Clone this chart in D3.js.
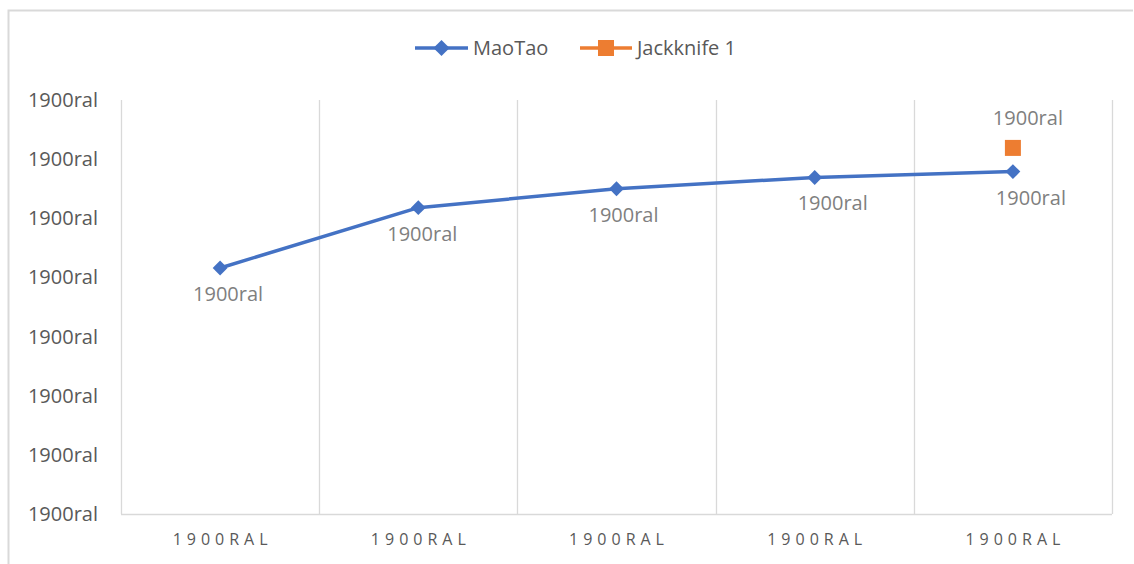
<!DOCTYPE html>
<html>
<head>
<meta charset="utf-8">
<script src="https://cdn.jsdelivr.net/npm/d3@7"></script>
<style>
  body { margin: 0; background: #fff; }
  svg { display: block; font-family: "Open Sans", Lato, sans-serif; }
</style>
</head>
<body>
<div id="chart"></div>
<script>
// categories and values
const categories = ["c1", "c2", "c3", "c4", "c5"];
const categoryLabels = ["1900RAL", "1900RAL", "1900RAL", "1900RAL", "1900RAL"];
const maoTao = [4.16, 5.18, 5.50, 5.69, 5.79];
const jackknife = [{cat: "c5", value: 6.19}];
const yTicks = [0, 1, 2, 3, 4, 5, 6, 7];
const yTickLabel = "1900ral";
const dataLabel = "1900ral";

const width = 1134, height = 564;
const margin = {top: 100, right: 22, bottom: 50, left: 121};

const svg = d3.select("#chart").append("svg")
    .attr("width", width)
    .attr("height", height);

// chart border (only left and top visible)
svg.append("path")
    .attr("d", "M8.5,564 V10.5 H1133")
    .attr("fill", "none")
    .attr("stroke", "#d9d9d9")
    .attr("stroke-width", 2);

const x = d3.scaleBand()
    .domain(categories)
    .range([margin.left, width - margin.right]);

const y = d3.scaleLinear()
    .domain([0, 7])
    .range([height - margin.bottom, margin.top]);

// vertical gridlines at category boundaries
const bounds = categories.map(c => x(c)).concat([x.range()[1]]);
svg.append("g")
    .selectAll("line")
    .data(bounds.slice(1))
    .join("line")
      .attr("x1", d => Math.round(d) + 0.5)
      .attr("x2", d => Math.round(d) + 0.5)
      .attr("y1", y(7))
      .attr("y2", y(0))
      .attr("stroke", "#d9d9d9")
      .attr("stroke-width", 1.3);

// axis lines (left and bottom)
svg.append("line")
    .attr("x1", margin.left + 0.5).attr("x2", margin.left + 0.5)
    .attr("y1", y(7)).attr("y2", y(0))
    .attr("stroke", "#d9d9d9").attr("stroke-width", 1.3);
svg.append("line")
    .attr("x1", margin.left).attr("x2", x.range()[1])
    .attr("y1", y(0) + 0.5).attr("y2", y(0) + 0.5)
    .attr("stroke", "#d9d9d9").attr("stroke-width", 1.3);

// y tick labels
svg.append("g")
    .selectAll("text")
    .data(yTicks)
    .join("text")
      .attr("x", 98)
      .attr("y", d => y(d))
      .attr("dy", "0.35em")
      .attr("text-anchor", "end")
      .attr("fill", "#595959")
      .attr("font-size", 20)
      .text(yTickLabel);

// x tick labels
svg.append("g")
    .selectAll("text")
    .data(categories)
    .join("text")
      .attr("x", d => x(d) + x.bandwidth() / 2 + 2.5)
      .attr("y", 545)
      .attr("text-anchor", "middle")
      .attr("fill", "#595959")
      .attr("font-size", 16)
      .attr("letter-spacing", "5px")
      .text((d, i) => categoryLabels[i]);

const cx = c => x(c) + x.bandwidth() / 2;

// MaoTao line
const pts = categories.map((c, i) => ({cat: c, value: maoTao[i]}));
svg.append("path")
    .datum(pts)
    .attr("fill", "none")
    .attr("stroke", "#4472C4")
    .attr("stroke-width", 3.5)
    .attr("stroke-linejoin", "round")
    .attr("d", d3.line().x(d => cx(d.cat)).y(d => y(d.value)));

svg.append("g")
    .selectAll("path")
    .data(pts)
    .join("path")
      .attr("transform", d => `translate(${cx(d.cat)},${y(d.value)}) rotate(45)`)
      .attr("d", d3.symbol().type(d3.symbolSquare).size(110))
      .attr("fill", "#4472C4");

// data labels sit a bit right of their points in the original
const nudge = [8, 4, 7, 18, 18];
svg.append("g")
    .selectAll("text")
    .data(pts)
    .join("text")
      .attr("x", (d, i) => cx(d.cat) + nudge[i])
      .attr("y", d => y(d.value) + 26)
      .attr("dy", "0.35em")
      .attr("text-anchor", "middle")
      .attr("fill", "#7f7f7f")
      .attr("font-size", 20)
      .text(dataLabel);

// Jackknife 1 point
svg.append("g")
    .selectAll("rect")
    .data(jackknife)
    .join("rect")
      .attr("x", d => cx(d.cat) - 8)
      .attr("y", d => y(d.value) - 8)
      .attr("width", 16)
      .attr("height", 16)
      .attr("fill", "#ED7D31");

svg.append("g")
    .selectAll("text")
    .data(jackknife)
    .join("text")
      .attr("x", d => cx(d.cat) + 15)
      .attr("y", d => y(d.value) - 30)
      .attr("dy", "0.35em")
      .attr("text-anchor", "middle")
      .attr("fill", "#7f7f7f")
      .attr("font-size", 20)
      .text(dataLabel);

// legend
const legend = svg.append("g").attr("font-size", 20).attr("fill", "#595959");
const l1 = legend.append("g").attr("transform", "translate(415,48)");
l1.append("line").attr("x1", 0).attr("x2", 53).attr("stroke", "#4472C4").attr("stroke-width", 3.5);
l1.append("path").attr("transform", "translate(26.5,0) rotate(45)")
    .attr("d", d3.symbol().type(d3.symbolSquare).size(130)).attr("fill", "#4472C4");
l1.append("text").attr("x", 58).attr("dy", "0.35em").text("MaoTao");

const l2 = legend.append("g").attr("transform", "translate(580,48)");
l2.append("line").attr("x1", 0).attr("x2", 52).attr("stroke", "#ED7D31").attr("stroke-width", 3.5);
l2.append("rect").attr("x", 18).attr("y", -8).attr("width", 16).attr("height", 16).attr("fill", "#ED7D31");
l2.append("text").attr("x", 57).attr("dy", "0.35em").text("Jackknife 1");
</script>
</body>
</html>
